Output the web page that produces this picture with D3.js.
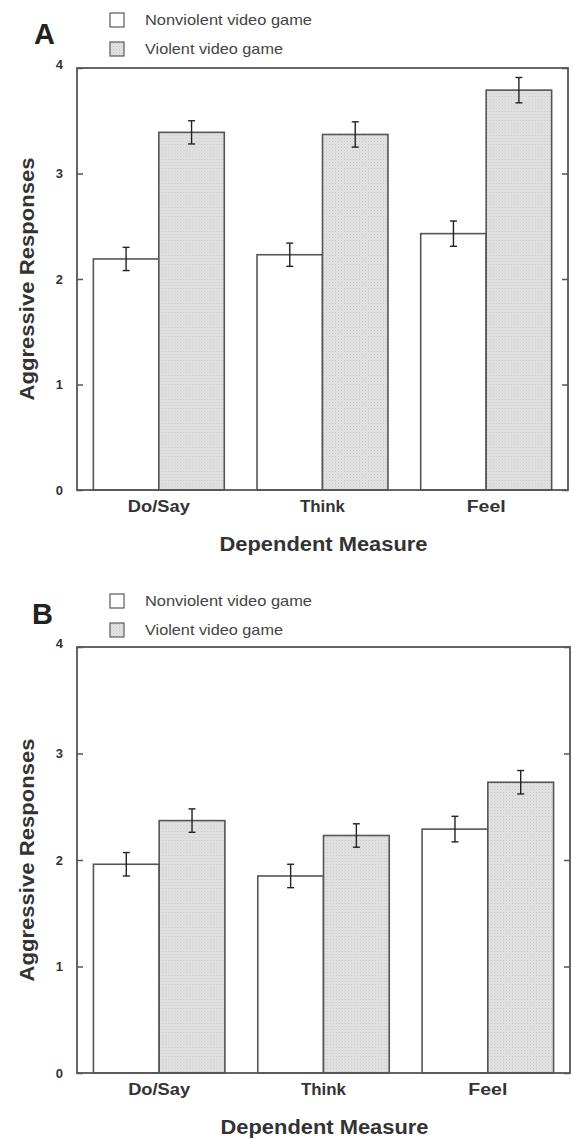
<!DOCTYPE html>
<html><head><meta charset="utf-8">
<script src="https://cdn.jsdelivr.net/npm/d3@7"></script>
<style>
html,body{margin:0;padding:0;background:#fff;}
svg{display:block;font-family:"Liberation Sans",Arial,sans-serif;}
</style></head>
<body>
<svg id="chart" width="573" height="1139"></svg>
<script>
const categories = ["Do/Say", "Think", "Feel"];
const seriesNames = ["Nonviolent video game", "Violent video game"];
const yTicks = [0, 1, 2, 3, 4];

const panelA_nonviolent = [2.19, 2.23, 2.43];
const panelA_violent = [3.39, 3.37, 3.79];
const panelA_nonviolentErr = [0.11, 0.11, 0.12];
const panelA_violentErr = [0.11, 0.12, 0.12];

const panelB_nonviolent = [1.96, 1.85, 2.29];
const panelB_violent = [2.37, 2.23, 2.73];
const panelB_nonviolentErr = [0.11, 0.11, 0.12];
const panelB_violentErr = [0.11, 0.11, 0.11];

const svg = d3.select("#chart");
const defs = svg.append("defs");
const pat = defs.append("pattern").attr("id", "dots").attr("patternUnits", "userSpaceOnUse")
  .attr("width", 3).attr("height", 3);
pat.append("rect").attr("width", 3).attr("height", 3).attr("fill", "#e3e3e3");
pat.append("rect").attr("x", 0).attr("y", 0).attr("width", 1).attr("height", 1).attr("fill", "#c4c4c4");
pat.append("rect").attr("x", 1.5).attr("y", 1.5).attr("width", 1).attr("height", 1).attr("fill", "#cfcfcf");

const fills = ["#ffffff", "url(#dots)"];
const frameColor = "#555";
const legendWidths = [167, 138];
const catWidths = {"Do/Say": 62, "Think": 45, "Feel": 39};

function drawPanel(p) {
  const g = svg.append("g");
  const x = d3.scaleBand().domain(categories).range([p.left, p.right]).paddingInner(0.2).paddingOuter(0.1);
  const xs = d3.scaleBand().domain(seriesNames).range([0, x.bandwidth()]);
  const y = d3.scaleLinear().domain([0, 4]).range([p.bottom, p.top]);

  const data = categories.map((c, i) => ({
    cat: c,
    vals: [
      {s: seriesNames[0], v: p.nv[i], e: p.nvErr[i], k: 0},
      {s: seriesNames[1], v: p.v[i], e: p.vErr[i], k: 1}
    ]
  }));

  const groups = g.selectAll(".cat").data(data).enter().append("g")
    .attr("transform", d => `translate(${x(d.cat)},0)`);
  groups.selectAll("rect").data(d => d.vals).enter().append("rect")
    .attr("x", d => xs(d.s)).attr("width", xs.bandwidth())
    .attr("y", d => y(d.v)).attr("height", d => y(0) - y(d.v))
    .attr("fill", d => fills[d.k]).attr("stroke", frameColor).attr("stroke-width", 1.6);

  const eb = groups.selectAll(".eb").data(d => d.vals).enter().append("g")
    .attr("stroke", "#222").attr("stroke-width", 1.4);
  const cx = d => xs(d.s) + xs.bandwidth() / 2;
  eb.append("line").attr("x1", cx).attr("x2", cx)
    .attr("y1", d => y(d.v + d.e)).attr("y2", d => y(d.v - d.e));
  eb.append("line").attr("x1", d => cx(d) - 3.5).attr("x2", d => cx(d) + 3.5)
    .attr("y1", d => y(d.v + d.e)).attr("y2", d => y(d.v + d.e));
  eb.append("line").attr("x1", d => cx(d) - 3.5).attr("x2", d => cx(d) + 3.5)
    .attr("y1", d => y(d.v - d.e)).attr("y2", d => y(d.v - d.e));

  g.append("rect").attr("x", p.left).attr("y", p.top).attr("width", p.right - p.left).attr("height", p.bottom - p.top)
    .attr("fill", "none").attr("stroke", frameColor).attr("stroke-width", 1.8);

  const yl = g.append("g").attr("transform", `translate(${p.left},0)`)
    .call(d3.axisRight(y).tickValues(yTicks).tickSize(6).tickFormat(""));
  yl.select(".domain").remove();
  yl.selectAll("line").attr("stroke", frameColor).attr("stroke-width", 1.5);
  const yr = g.append("g").attr("transform", `translate(${p.right},0)`)
    .call(d3.axisLeft(y).tickValues(yTicks).tickSize(6).tickFormat(""));
  yr.select(".domain").remove();
  yr.selectAll("line").attr("stroke", frameColor).attr("stroke-width", 1.5);

  g.selectAll(".yl").data(yTicks).enter().append("text")
    .attr("x", p.left - 14).attr("y", d => y(d)).attr("dy", d => d === 4 ? "0.1em" : "0.35em")
    .attr("text-anchor", "end").attr("font-size", 13).attr("font-weight", "bold").attr("fill", "#333")
    .text(d => d);

  const xa = g.append("g").attr("transform", `translate(0,${p.bottom})`)
    .call(d3.axisBottom(x).tickSize(0).tickPadding(11));
  xa.select(".domain").remove();
  xa.selectAll("text").attr("font-size", 16).attr("font-weight", "bold").attr("fill", "#333")
    .attr("font-family", "Liberation Sans, Arial, sans-serif")
    .attr("textLength", d => catWidths[d]).attr("lengthAdjust", "spacingAndGlyphs");

  g.append("text").attr("x", (p.left + p.right) / 2 + 1).attr("y", p.bottom + 61)
    .attr("text-anchor", "middle").attr("font-size", 19.5).attr("font-weight", "bold").attr("fill", "#333")
    .attr("textLength", 208).attr("lengthAdjust", "spacingAndGlyphs")
    .text("Dependent Measure");
  g.append("text").attr("transform", `translate(34,${(p.top + p.bottom) / 2}) rotate(-90)`)
    .attr("text-anchor", "middle").attr("font-size", 20).attr("font-weight", "bold").attr("fill", "#333")
    .attr("textLength", 243).attr("lengthAdjust", "spacingAndGlyphs")
    .text("Aggressive Responses");

  g.append("text").attr("x", p.letterX).attr("y", p.letterY).attr("font-size", 29).attr("font-weight", "bold")
    .attr("fill", "#222").text(p.letter);

  const lg = g.selectAll(".lg").data(seriesNames).enter().append("g")
    .attr("transform", (d, i) => `translate(110,${p.legendY + i * 29})`);
  lg.append("rect").attr("x", 0).attr("y", -7).attr("width", 14).attr("height", 14)
    .attr("fill", (d, i) => fills[i]).attr("stroke", "#666").attr("stroke-width", 1.3);
  lg.append("text").attr("x", 35).attr("y", 0).attr("dy", "0.35em").attr("font-size", 15).attr("fill", "#444")
    .attr("textLength", (d, i) => legendWidths[i]).attr("lengthAdjust", "spacingAndGlyphs")
    .text(d => d);
}

drawPanel({letter: "A", letterX: 34, letterY: 44, legendY: 20,
  top: 68, bottom: 490, left: 77, right: 568,
  nv: panelA_nonviolent, v: panelA_violent, nvErr: panelA_nonviolentErr, vErr: panelA_violentErr});
drawPanel({letter: "B", letterX: 32, letterY: 624, legendY: 601,
  top: 647, bottom: 1073, left: 77, right: 570,
  nv: panelB_nonviolent, v: panelB_violent, nvErr: panelB_nonviolentErr, vErr: panelB_violentErr});
</script>
</body></html>
